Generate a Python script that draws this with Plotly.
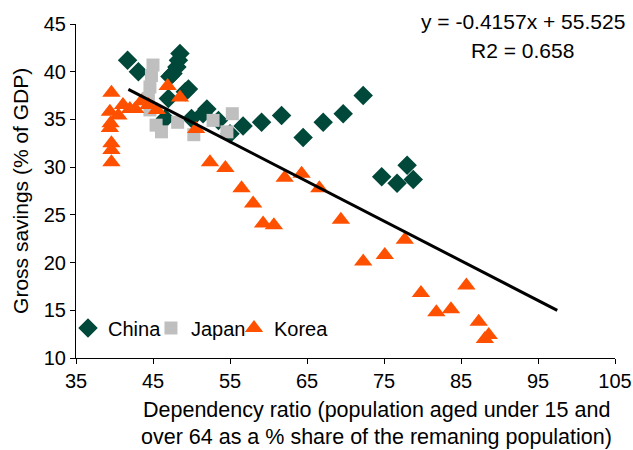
import plotly.graph_objects as go

# Dependency ratio (x) vs gross savings (y)
china_x = [41.7, 43.1, 48.5, 48.3, 48.1, 47.6, 47.2, 49.6, 49.2, 47.0, 52.0, 51.5, 50.0, 46.6,
           53.5, 55.0, 56.7, 59.1, 61.7, 64.5, 67.1, 69.7, 72.3, 74.7, 76.7, 78.0, 78.8]
china_y = [41.2, 40.0, 41.9, 41.2, 40.5, 39.8, 39.5, 38.2, 37.9, 37.2, 36.1, 35.6, 35.1, 35.1,
           34.9, 33.5, 34.3, 34.7, 35.4, 33.1, 34.7, 35.6, 37.5, 29.0, 28.3, 30.2, 28.7]

japan_x = [45.0, 44.8, 44.6, 44.4, 44.6, 45.4, 46.1, 48.2, 50.3, 52.8, 54.6, 55.3]
japan_y = [40.7, 39.6, 38.4, 37.2, 36.0, 34.4, 33.7, 34.7, 33.4, 34.9, 33.7, 35.6]

korea_x = [39.6, 39.4, 39.5, 39.4, 39.6, 39.6, 39.6, 40.5, 41.1, 42.0, 42.7, 43.5, 44.4, 45.5,
           46.9, 48.5, 50.6, 52.4, 54.4, 56.5, 58.0, 59.3, 60.7, 62.1, 64.3, 66.6, 69.4,
           72.3, 75.1, 77.7, 79.8, 81.8, 83.7, 85.7, 87.3, 88.6, 88.1]
korea_y = [37.8, 35.8, 34.6, 34.1, 32.5, 31.8, 30.5, 35.4, 36.5, 36.1, 36.1, 36.9, 36.5, 36.0,
           38.5, 37.3, 34.0, 30.5, 29.9, 27.8, 26.2, 24.1, 23.9, 28.9, 29.3, 27.8, 24.5,
           20.1, 20.8, 22.4, 16.8, 14.8, 15.1, 17.6, 13.8, 12.4, 12.0]

# Linear trend: y = slope * x + intercept
slope = -0.4157
intercept = 55.525
r2 = 0.658
trend_x = [41.8, 97.5]
trend_y = [slope * v + intercept for v in trend_x]

x_ticks = [35, 45, 55, 65, 75, 85, 95, 105]
y_ticks = [10, 15, 20, 25, 30, 35, 40, 45]

FONT = "Liberation Sans, Arial, sans-serif"


def legend_box(x_paper):
    # one single-entry legend per series so each entry sits where it should
    return dict(
        orientation="h", x=x_paper, y=0.09, xanchor="left", yanchor="middle",
        bgcolor="rgba(0,0,0,0)", font=dict(size=20), itemwidth=30,
    )


fig = go.Figure()
fig.add_trace(go.Scatter(
    x=china_x, y=china_y, mode="markers", name="China", legend="legend",
    marker=dict(symbol="diamond", size=15, color="#00483A"),
))
fig.add_trace(go.Scatter(
    x=japan_x, y=japan_y, mode="markers", name="Japan", legend="legend2",
    marker=dict(symbol="square", size=13, color="#BFBFBF"),
))
fig.add_trace(go.Scatter(
    x=korea_x, y=korea_y, mode="markers", name="Korea", legend="legend3",
    marker=dict(symbol="triangle-up", size=16, color="#FF5000"),
))
fig.add_trace(go.Scatter(
    x=trend_x, y=trend_y, mode="lines", showlegend=False,
    line=dict(color="black", width=3),
))

fig.update_layout(
    width=633, height=450,
    margin=dict(l=76, r=18, t=24, b=92),
    paper_bgcolor="white", plot_bgcolor="white",
    font=dict(family=FONT, size=21.5, color="black"),
    showlegend=True,
    legend=legend_box(-0.0148),
    legend2=legend_box(0.1391),
    legend3=legend_box(0.2931),
    xaxis=dict(
        range=[35, 105], tickvals=x_ticks, showgrid=False, zeroline=False,
        showline=True, linecolor="black", linewidth=1, automargin=False,
        ticks="outside", ticklen=5, tickcolor="black", tickfont=dict(size=20),
    ),
    yaxis=dict(
        range=[10, 45], tickvals=y_ticks, showgrid=False, zeroline=False,
        showline=True, linecolor="black", linewidth=1, automargin=False,
        ticks="outside", ticklen=5, tickcolor="black", tickfont=dict(size=20),
    ),
    annotations=[
        dict(text="Dependency ratio (population aged under 15 and",
             xref="paper", yref="paper", x=0.5566, y=-0.155,
             xanchor="center", yanchor="middle", showarrow=False),
        dict(text="over 64 as a % share of the remaning population)",
             xref="paper", yref="paper", x=0.5566, y=-0.238,
             xanchor="center", yanchor="middle", showarrow=False),
        dict(text="Gross savings (% of GDP)", textangle=-90, font=dict(size=21),
             xref="paper", yref="paper", x=-0.104, y=0.5,
             xanchor="center", yanchor="middle", showarrow=False),
        dict(text=f"y = {slope}x + {intercept}", font=dict(size=21),
             xref="paper", yref="paper", x=0.829, y=1.006,
             xanchor="center", yanchor="middle", showarrow=False),
        dict(text=f"R2 = {r2}", font=dict(size=21),
             xref="paper", yref="paper", x=0.829, y=0.922,
             xanchor="center", yanchor="middle", showarrow=False),
    ],
)

fig.write_html("out.html")
